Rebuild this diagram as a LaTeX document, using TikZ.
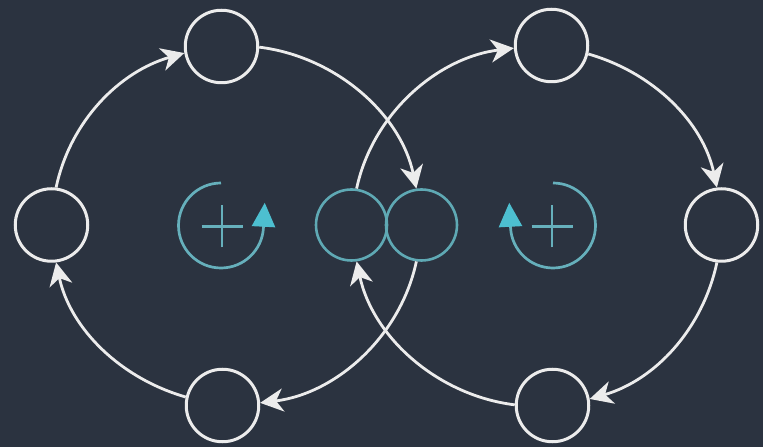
\documentclass[tikz,border=0pt]{standalone}
\usetikzlibrary{arrows.meta}
\definecolor{bg}{HTML}{2B3340}
\definecolor{wht}{HTML}{ECECEC}
\definecolor{tealline}{HTML}{5FA9B4}
\definecolor{tealicon}{HTML}{66B0BC}
\definecolor{tealtip}{HTML}{4DBFD0}
\begin{document}
\begin{tikzpicture}[x=1pt,y=1pt,
  wnode/.style={circle, draw=wht, line width=3pt, minimum size=72.5pt, inner sep=0pt},
  tnode/.style={circle, draw=tealline, line width=2.6pt, minimum size=71pt, inner sep=0pt},
  conn/.style={draw=wht, line width=2.8pt, -{Stealth[length=23pt,width=23pt,inset=7pt]}, looseness=0.93},
  iconarc/.style={draw=tealicon, line width=2.7pt, -{Triangle[length=24pt,width=23pt,color=tealtip]}},
  plussign/.style={draw=tealicon, line width=2.7pt},
]
\fill[bg] (0,0) rectangle (763,447);
\useasboundingbox (0,0) rectangle (763,447);

% white nodes
\node[wnode] (A) at (221.5,400.5) {};
\node[wnode] (B) at (51.5,222) {};
\node[wnode] (C) at (222.5,41.5) {};
\node[wnode] (D) at (551.5,401.5) {};
\node[wnode] (E) at (721.5,222) {};
\node[wnode] (F) at (552.5,41.5) {};
% teal centre nodes
\node[tnode] (T1) at (351.5,222) {};
\node[tnode] (T2) at (421.5,222) {};

% left loop (clockwise)
\draw[conn] (B.83) to[out=78,in=196] (A.190);
\draw[conn] (A.-1) to[out=-7,in=102] (T2.98);
\draw[conn] (T2.262) to[out=258,in=7] (C.4);
\draw[conn] (C.167) to[out=164,in=282] (B.277);
% right loop (clockwise)
\draw[conn] (E.263) to[out=258,in=16] (F.10);
\draw[conn] (F.179) to[out=173,in=282] (T1.278);
\draw[conn] (T1.82) to[out=78,in=187] (D.184);
\draw[conn] (D.347) to[out=344,in=102] (E.97);

% icons
\coordinate (I1) at (221,221.5);
\coordinate (I2) at (553,221.5);
\coordinate (P1) at (222,220.5);
\coordinate (P2) at (552,220.5);
\draw[iconarc] ([shift={(90:42.5)}]I1) arc[start angle=90,end angle=357,radius=42.5] -- ++(87:25);
\draw[iconarc] ([shift={(90:42.5)}]I2) arc[start angle=90,end angle=-177,radius=42.5] -- ++(93:25);
\draw[plussign] ([xshift=-20.5pt]P1) -- ([xshift=20.5pt]P1) ([yshift=-21pt]P1) -- ([yshift=21pt]P1);
\draw[plussign] ([xshift=-20.5pt]P2) -- ([xshift=20.5pt]P2) ([yshift=-21pt]P2) -- ([yshift=21pt]P2);
\end{tikzpicture}
\end{document}
